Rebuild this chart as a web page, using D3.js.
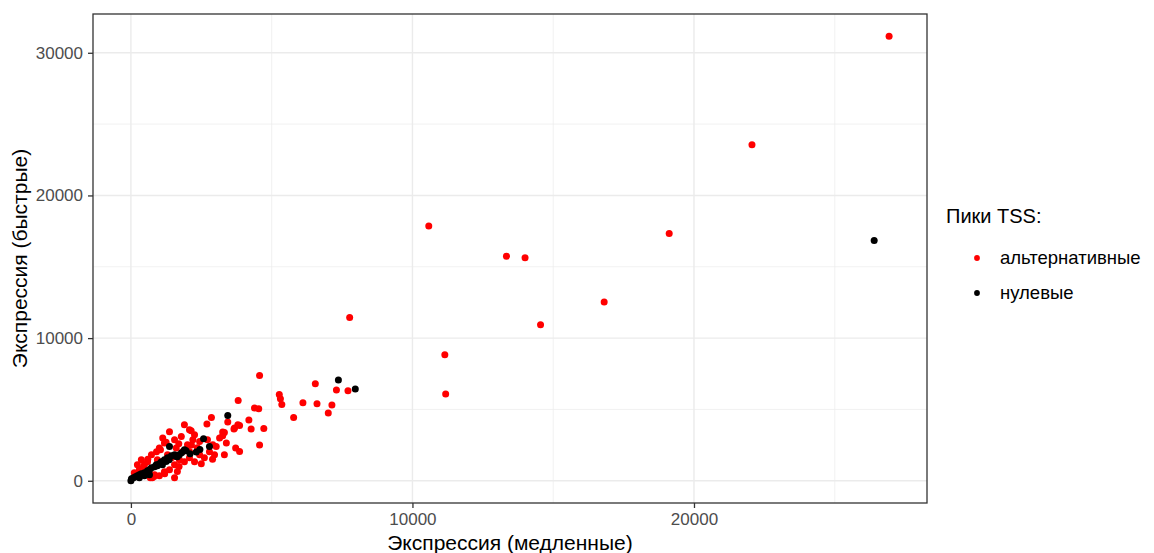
<!DOCTYPE html>
<html>
<head>
<meta charset="utf-8">
<script src="https://cdn.jsdelivr.net/npm/d3@7"></script>
<style>
  body { margin: 0; background: #fff; }
  svg { display: block; font-family: "Liberation Sans", Arial, sans-serif; }
</style>
</head>
<body>
<svg id="chart" width="1154" height="553"></svg>
<script>
// Series: alternative TSS peaks (red)
const altX = [26930,22060,19120,10580,13340,14000,16810,14550,11150,11180,7770,7300,7710,6550,6110,6610,7140,7010,5780,5270,5310,5360,4570,3810,4390,4540,2860,4190,2700,3660,4270,4720,3320,3260,3860,3440,4570,3720,3860,3320,2080,1790,1130,3150,3390,2200,3030,2080,1610,1010,1190,3260,2260,2440,2910,1050,940,690,2140,3800,3680,300,480,660,120,840,1190,1370,1550,1720,1900,2080,2260,2440,2610,2790,2970,230,370,590,730,910,1300,1440,1830,2010,2360,2720,1550,1370,1900,1010,1550,1650,1710,820,760,2500,2900,1200,1250,1700,2150,600,420];
const altY = [31160,23560,17340,17860,15730,15640,12530,10940,8840,6080,11450,6360,6310,6800,5470,5400,5310,4750,4440,6050,5750,5350,7380,5630,5100,5050,4440,4260,3980,3630,3630,3670,3390,3160,3880,4120,2500,2290,2050,1820,3580,3110,2990,2990,2640,2880,2410,2050,2290,2290,2640,3420,3230,2760,2520,2170,1470,210,3510,3930,3700,770,1120,770,560,420,630,770,1120,1470,1330,1610,1330,1820,1610,2030,1820,1120,1470,1330,1820,2030,1820,1610,2030,2520,2310,2870,2880,3440,3930,350,210,650,1000,300,210,1200,1500,500,2700,2600,2500,1500,900];
// Series: null TSS peaks (black)
const nulX = [26400,7370,7970,3440,2580,2790,1960,2320,1900,1370,1610,1250,900,1360,1120,0,20,90,160,230,300,370,480,590,660,730,840,940,1010,1080,1190,1300,1440,1550,1650,1720,1800,300,480,660,2100,2450];
const nulY = [16850,7060,6430,4580,2950,2410,2100,2010,2170,2410,1700,1350,1120,1470,1120,0,140,210,280,350,420,490,560,700,770,910,980,1050,1190,1330,1470,1610,1750,1820,1680,1820,1960,210,350,420,1900,2200];
// Axis ticks
const xTicks = [0, 10000, 20000];
const yTicks = [0, 10000, 20000, 30000];
const xMinor = [5000, 15000, 25000];
const yMinor = [5000, 15000, 25000];
const legendTitle = "Пики TSS:";
const groups = ["альтернативные", "нулевые"];
const groupColors = ["#ff0000", "#000000"];

const svg = d3.select("#chart");
const L = 93, R = 927, T = 14, B = 503;

const allX = altX.concat(nulX), allY = altY.concat(nulY);
const [x0, x1] = d3.extent(allX), [y0, y1] = d3.extent(allY);
const px = (x1 - x0) * 0.05, py = (y1 - y0) * 0.05;
const x = d3.scaleLinear().domain([x0 - px, x1 + px]).range([L, R]);
const y = d3.scaleLinear().domain([y0 - py, y1 + py]).range([B, T]);

// grid
const g = svg.append("g");
g.selectAll(".xmin").data(xMinor).join("line")
  .attr("x1", d => x(d)).attr("x2", d => x(d)).attr("y1", T).attr("y2", B)
  .attr("stroke", "#ebebeb").attr("stroke-width", 0.7);
g.selectAll(".ymin").data(yMinor).join("line")
  .attr("y1", d => y(d)).attr("y2", d => y(d)).attr("x1", L).attr("x2", R)
  .attr("stroke", "#ebebeb").attr("stroke-width", 0.7);
g.selectAll(".xmaj").data(xTicks).join("line")
  .attr("x1", d => x(d)).attr("x2", d => x(d)).attr("y1", T).attr("y2", B)
  .attr("stroke", "#ebebeb").attr("stroke-width", 1.4);
g.selectAll(".ymaj").data(yTicks).join("line")
  .attr("y1", d => y(d)).attr("y2", d => y(d)).attr("x1", L).attr("x2", R)
  .attr("stroke", "#ebebeb").attr("stroke-width", 1.4);

// points
const alt = altX.map((v, i) => ({x: v, y: altY[i]}));
const nul = nulX.map((v, i) => ({x: v, y: nulY[i]}));
svg.append("g").selectAll("circle").data(alt).join("circle")
  .attr("cx", d => x(d.x)).attr("cy", d => y(d.y)).attr("r", 3.5).attr("fill", groupColors[0]);
svg.append("g").selectAll("circle").data(nul).join("circle")
  .attr("cx", d => x(d.x)).attr("cy", d => y(d.y)).attr("r", 3.5).attr("fill", groupColors[1]);

// border
svg.append("rect").attr("x", L).attr("y", T).attr("width", R - L).attr("height", B - T)
  .attr("fill", "none").attr("stroke", "#333333").attr("stroke-width", 1.3);

// axes
const xAxis = d3.axisBottom(x).tickValues(xTicks).tickFormat(d3.format("d")).tickSize(5).tickPadding(5);
const yAxis = d3.axisLeft(y).tickValues(yTicks).tickFormat(d3.format("d")).tickSize(5).tickPadding(5);
const gx = svg.append("g").attr("transform", `translate(0,${B})`).call(xAxis);
const gy = svg.append("g").attr("transform", `translate(${L},0)`).call(yAxis);
[gx, gy].forEach(a => {
  a.select(".domain").remove();
  a.selectAll(".tick line").attr("stroke", "#333333").attr("stroke-width", 1.3);
  a.selectAll(".tick text").attr("fill", "#4d4d4d").style("font-size", "17px")
    .style("font-family", '"Liberation Sans", Arial, sans-serif');
});

// axis titles
svg.append("text").attr("x", (L + R) / 2).attr("y", 550).attr("text-anchor", "middle")
  .style("font-size", "21px").attr("fill", "#000").text("Экспрессия (медленные)");
svg.append("text").attr("transform", `translate(27,${(T + B) / 2}) rotate(-90)`)
  .attr("text-anchor", "middle").style("font-size", "21px").attr("fill", "#000")
  .text("Экспрессия (быстрые)");

// legend
const lg = svg.append("g");
lg.append("text").attr("x", 946).attr("y", 223).style("font-size", "20px").attr("fill", "#000").text(legendTitle);
groups.forEach((name, i) => {
  const cy = 258 + i * 35;
  lg.append("circle").attr("cx", 977).attr("cy", cy).attr("r", 2.9).attr("fill", groupColors[i]);
  lg.append("text").attr("x", 1000).attr("y", cy + 6).style("font-size", "18.5px").attr("fill", "#000").text(name);
});
</script>
</body>
</html>
